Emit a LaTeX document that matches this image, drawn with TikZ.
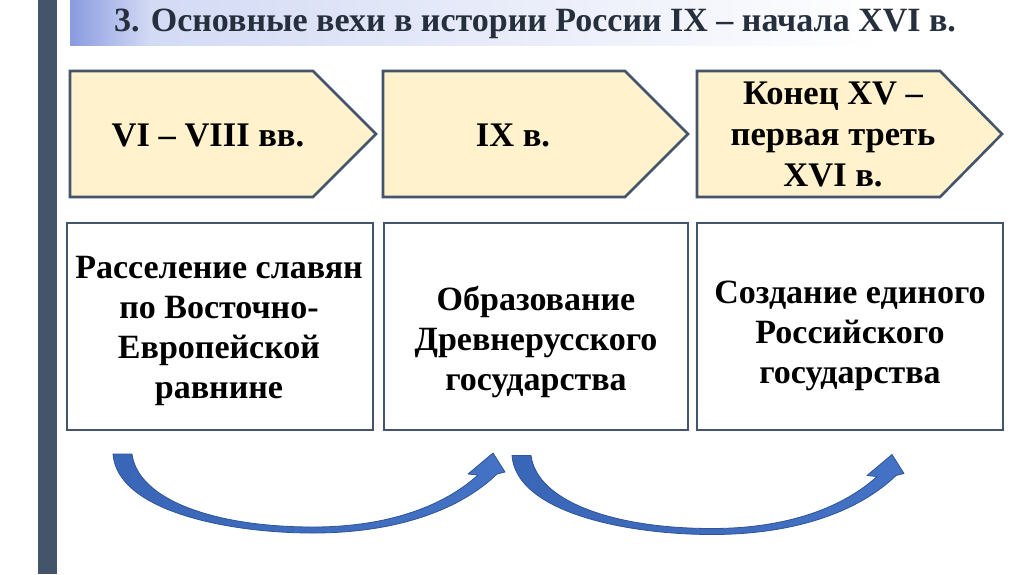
\documentclass[tikz,border=0pt]{standalone}
\usepackage{fontspec}
\setmainfont{Liberation Serif}
\definecolor{slate}{HTML}{44546A}
\definecolor{penfill}{HTML}{FFF2CC}
\definecolor{arrblue}{HTML}{3A66B8}
\definecolor{arrblue2}{HTML}{4472C4}
\definecolor{arredge}{HTML}{2F5597}
\definecolor{tba}{HTML}{8A9BE0}
\definecolor{tbb}{HTML}{D3DAF4}
\definecolor{titletext}{HTML}{262F3D}
\begin{document}
\begin{tikzpicture}[x=1pt,y=-1pt,
  pent/.style={draw=slate, line width=2.6pt, fill=penfill, line join=miter},
  card/.style={draw=slate, line width=2.8pt, fill=white, inner sep=0pt},
  ptext/.style={font=\fontsize{34.5}{41}\selectfont\bfseries, align=center, inner sep=0pt},
  btext/.style={font=\fontsize{34}{40}\selectfont\bfseries, align=center, inner sep=0pt},
  carrow/.style={left color=arrblue, right color=arrblue2, draw=arredge, line width=0.8pt, line join=round}]
\useasboundingbox (0,0) rectangle (1024,574);
\fill[white] (0,0) rectangle (1024,574);
% left bar and title band
\fill[slate] (38,0) rectangle (57,574);
\shade[left color=tba, right color=tbb] (70,0) rectangle (150,45);
\shade[left color=tbb, right color=white] (149.5,0) rectangle (880,45);
\node[font=\fontsize{34}{40}\selectfont\bfseries, text=titletext, anchor=base, inner sep=0pt] (title) at (535,31) {3. Основные вехи в истории России IX – начала XVI в.};
% pentagons
\draw[pent] (70,71) -- (313,71) -- (376,134) -- (313,197) -- (70,197) -- cycle;
\draw[pent] (383,71) -- (625,71) -- (688,134) -- (625,197) -- (383,197) -- cycle;
\draw[pent] (697,71) -- (940,71) -- (1002,134) -- (940,197) -- (697,197) -- cycle;
\node[ptext] (p1) at (208,135.6) {VI – VIII вв.};
\node[ptext] (p2) at (513,135.6) {IX в.};
\node[ptext] (p3) at (833,134.6) {Конец XV –\\первая треть\\XVI в.};
% boxes
\node[card, minimum width=306pt, minimum height=207pt] (b1) at (220,326.5) {};
\node[card, minimum width=304pt, minimum height=207pt] (b2) at (536,326.5) {};
\node[card, minimum width=306pt, minimum height=207pt] (b3) at (850,326.5) {};
\node[btext] (t1) at (219,330.5) {Расселение славян\\по Восточно-\\Европейской\\равнине};
\node[btext] (t2) at (536,342) {Образование\\Древнерусского\\государства};
\node[btext] (t3) at (850,335.5) {Создание единого\\Российского\\государства};
% curved arrows
\foreach \dx/\dy in {0/0, 399/1.5}{
\begin{scope}[shift={(\dx,\dy)}]
\shade[carrow] (113,454) .. controls (117,510) and (225,533) .. (313,533)
  .. controls (400,533) and (462,508) .. (497,474) -- (505,472) -- (493,453)
  -- (468,474) -- (478,475) .. controls (445,505) and (390,527) .. (313,527)
  .. controls (215,527) and (138,500) .. (132,454) -- cycle;
\end{scope}}
\end{tikzpicture}
\end{document}
